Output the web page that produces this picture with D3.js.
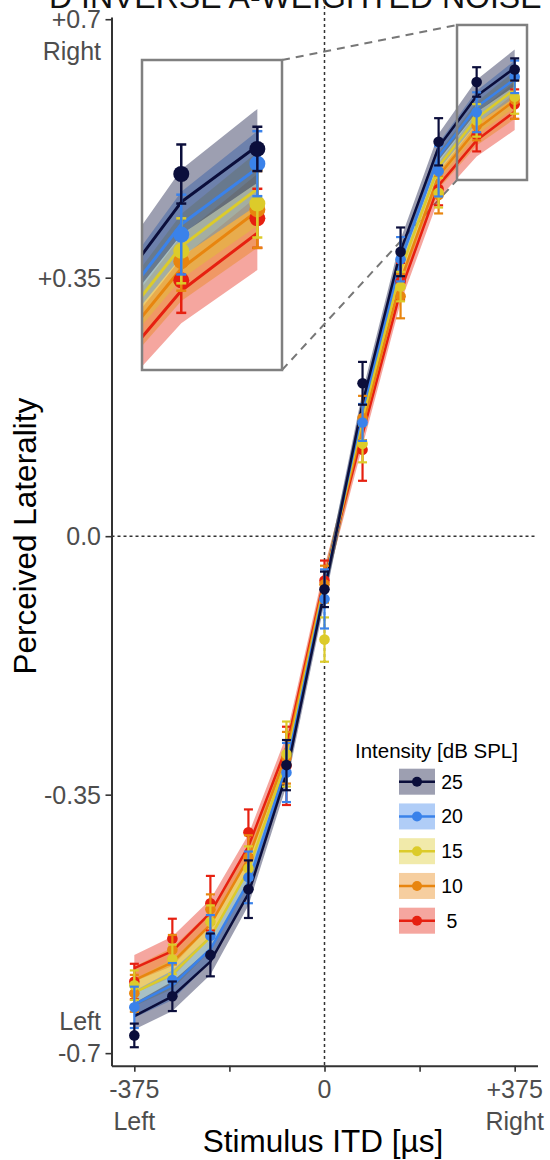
<!DOCTYPE html>
<html><head><meta charset="utf-8">
<script src="https://cdn.jsdelivr.net/npm/d3@7"></script>
<style>body{margin:0;background:#fff} svg{display:block;font-family:"Liberation Sans",Arial,sans-serif}</style>
</head><body><svg id="c" width="550" height="1160"></svg>
<script>
// ---------- data ----------
const itd = [-375,-300,-225,-150,-75,0,75,150,225,300,375];
const intensities = ["25","20","15","10","5"];
const colors = ["#0b0e3b","#3a82ea","#dccb2a","#e8850f","#e62010"];

const obs25 = [-0.676,-0.623,-0.567,-0.478,-0.310,-0.072,0.207,0.385,0.534,0.615,0.632];
const err25 = [0.016,0.020,0.029,0.039,0.034,0.024,0.029,0.033,0.032,0.020,0.015];
const obs20 = [-0.638,-0.601,-0.541,-0.462,-0.320,-0.085,0.154,0.375,0.494,0.574,0.622];
const err20 = [0.028,0.023,0.028,0.035,0.040,0.040,0.025,0.030,0.034,0.027,0.022];
const obs15 = [-0.608,-0.573,-0.522,-0.450,-0.295,-0.140,0.125,0.338,0.465,0.563,0.595];
const err15 = [0.020,0.020,0.022,0.030,0.044,0.030,0.025,0.020,0.020,0.022,0.023];
const obs10 = [-0.619,-0.560,-0.505,-0.435,-0.300,-0.065,0.160,0.325,0.462,0.556,0.591];
const err10 = [0.025,0.020,0.020,0.030,0.035,0.025,0.030,0.030,0.025,0.020,0.026];
const obs5  = [-0.603,-0.545,-0.497,-0.401,-0.311,-0.060,0.117,0.345,0.470,0.543,0.585];
const err5  = [0.024,0.027,0.037,0.031,0.053,0.027,0.042,0.025,0.022,0.022,0.020];

const fit25 = [-0.650,-0.623,-0.576,-0.484,-0.322,-0.074,0.180,0.386,0.527,0.596,0.634];
const fit20 = [-0.634,-0.608,-0.559,-0.468,-0.313,-0.069,0.170,0.373,0.514,0.581,0.619];
const fit15 = [-0.618,-0.593,-0.543,-0.452,-0.304,-0.065,0.160,0.360,0.501,0.566,0.605];
const fit10 = [-0.601,-0.577,-0.526,-0.436,-0.295,-0.061,0.149,0.346,0.488,0.551,0.590];
const fit5  = [-0.585,-0.562,-0.510,-0.420,-0.286,-0.057,0.138,0.332,0.475,0.536,0.575];
const bandHalf = [0.018,0.020,0.018,0.016,0.016,0.016,0.016,0.016,0.018,0.022,0.025];

const yTicks = [-0.7,-0.35,0,0.35,0.7];
const yTickLabels = ["-0.7","-0.35","0.0","+0.35","+0.7"];
const yTickSub = ["Left","","","","Right"];
const xTicks = [-375,-187.5,0,187.5,375];
const xTickLabels = ["-375","","0","","+375"];
const xTickSub = ["Left","","","","Right"];

const titleText = "D INVERSE A-WEIGHTED NOISE";
const xTitle = "Stimulus ITD [µs]";
const yTitle = "Perceived Laterality";
const legendTitle = "Intensity [dB SPL]";

// ---------- build ----------
const obsAll = [obs25,obs20,obs15,obs10,obs5];
const errAll = [err25,err20,err15,err10,err5];
const fitAll = [fit25,fit20,fit15,fit10,fit5];
const series = intensities.map((k,i)=>({
  key:k, color:colors[i],
  pts: itd.map((t,j)=>({t, v:obsAll[i][j], e:errAll[i][j], f:fitAll[i][j], b:bandHalf[j]}))
}));
const drawOrder = series.slice().reverse(); // 5 first, 25 on top

const svg = d3.select("#c");
const FONT = '"Liberation Sans",Arial,sans-serif';

const x = d3.scaleLinear().domain([-420,420]).range([111.5,537.5]);
const y = d3.scaleLinear().domain([-0.717,0.703]).range([1065.7,17]);

// title (cut off at top, as in the source figure)
svg.append("text").attr("x",49).attr("y",8).attr("font-size",32).attr("fill","#111")
  .attr("font-family",FONT).text(titleText);

// reference lines
svg.append("line").attr("x1",x(0)).attr("x2",x(0)).attr("y1",0).attr("y2",y.range()[0])
  .attr("stroke","#333").attr("stroke-width",1.5).attr("stroke-dasharray","3,3");
svg.append("line").attr("x1",x.range()[0]).attr("x2",x.range()[1]).attr("y1",y(0)).attr("y2",y(0))
  .attr("stroke","#333").attr("stroke-width",1.5).attr("stroke-dasharray","3,3");

// inset geometry
const zx = [261.3,399.3], zy = [0.4823,0.6922];
const ix = d3.scaleLinear().domain(zx).range([142,282]);
const iy = d3.scaleLinear().domain(zy).range([370,60]);

// connectors
svg.append("line").attr("x1",ix.range()[1]).attr("y1",iy.range()[1]).attr("x2",x(zx[0])).attr("y2",y(zy[1]))
  .attr("stroke","#777").attr("stroke-width",2).attr("stroke-dasharray","8,6");
svg.append("line").attr("x1",ix.range()[1]).attr("y1",iy.range()[0]).attr("x2",x(zx[0])).attr("y2",y(zy[0]))
  .attr("stroke","#777").attr("stroke-width",2).attr("stroke-dasharray","8,6");

function drawData(g, xs, ys, o){
  const area = d3.area().x(d=>xs(d.t)).y0(d=>ys(d.f-d.b)).y1(d=>ys(d.f+d.b));
  const line = d3.line().x(d=>xs(d.t)).y(d=>ys(d.f));
  drawOrder.forEach(s=>{
    g.append("path").attr("d",area(s.pts)).attr("fill",s.color).attr("fill-opacity",0.4);
  });
  drawOrder.forEach(s=>{
    g.append("path").attr("d",line(s.pts)).attr("fill","none").attr("stroke",s.color)
      .attr("stroke-width",o.lw).attr("stroke-linejoin","round");
  });
  drawOrder.forEach(s=>{
    const gg = g.append("g");
    s.pts.forEach(d=>{
      const cx = xs(d.t);
      gg.append("line").attr("x1",cx).attr("x2",cx).attr("y1",ys(d.v-d.e)).attr("y2",ys(d.v+d.e))
        .attr("stroke",s.color).attr("stroke-width",o.ew);
      [d.v-d.e,d.v+d.e].forEach(vv=>{
        gg.append("line").attr("x1",cx-o.cap).attr("x2",cx+o.cap).attr("y1",ys(vv)).attr("y2",ys(vv))
          .attr("stroke",s.color).attr("stroke-width",o.ew);
      });
      gg.append("circle").attr("cx",cx).attr("cy",ys(d.v)).attr("r",o.r).attr("fill",s.color);
    });
  });
}

drawData(svg.append("g"), x, y, {lw:2.5, ew:2.2, cap:4.5, r:5.3});

// zoom rect in main
svg.append("rect").attr("x",x(zx[0])).attr("y",y(zy[1])).attr("width",x(zx[1])-x(zx[0])).attr("height",y(zy[0])-y(zy[1]))
  .attr("fill","none").attr("stroke","#808080").attr("stroke-width",2.5);

// inset
const defs = svg.append("defs");
defs.append("clipPath").attr("id","ic").append("rect")
  .attr("x",142).attr("y",60).attr("width",140).attr("height",310);
svg.append("rect").attr("x",142).attr("y",60).attr("width",140).attr("height",310).attr("fill","#fff");
drawData(svg.append("g").attr("clip-path","url(#ic)"), ix, iy, {lw:3, ew:2.5, cap:5, r:8});
svg.append("rect").attr("x",142).attr("y",60).attr("width",140).attr("height",310)
  .attr("fill","none").attr("stroke","#808080").attr("stroke-width",2.5);

// axes
const yAxis = d3.axisLeft(y).tickValues(yTicks).tickSize(6).tickSizeOuter(0).tickFormat("");
const gy = svg.append("g").attr("transform",`translate(${x.range()[0]},0)`).call(yAxis);
const xAxis = d3.axisBottom(x).tickValues(xTicks).tickSize(6).tickSizeOuter(0).tickFormat("");
const gx = svg.append("g").attr("transform",`translate(0,${y.range()[0]})`).call(xAxis);
[gy,gx].forEach(g=>{
  g.select(".domain").attr("stroke","#333").attr("stroke-width",2);
  g.selectAll(".tick line").attr("stroke","#333").attr("stroke-width",1.6);
});

const tickCol = "#4d4d4d";
yTicks.forEach((v,i)=>{
  svg.append("text").attr("x",101).attr("y",y(v)+9).attr("text-anchor","end")
    .attr("font-size",25).attr("fill",tickCol).attr("font-family",FONT).text(yTickLabels[i]);
  if(yTickSub[i]){
    svg.append("text").attr("x",101).attr("y",y(v)+9+(v<0?-32:32)).attr("text-anchor","end")
      .attr("font-size",25).attr("fill",tickCol).attr("font-family",FONT).text(yTickSub[i]);
  }
});
xTicks.forEach((t,i)=>{
  if(xTickLabels[i]) svg.append("text").attr("x",x(t)).attr("y",1098).attr("text-anchor","middle")
    .attr("font-size",25).attr("fill",tickCol).attr("font-family",FONT).text(xTickLabels[i]);
  if(xTickSub[i]) svg.append("text").attr("x",x(t)).attr("y",1130).attr("text-anchor","middle")
    .attr("font-size",25).attr("fill",tickCol).attr("font-family",FONT).text(xTickSub[i]);
});

svg.append("text").attr("x",323).attr("y",1152).attr("text-anchor","middle")
  .attr("font-size",31.5).attr("fill","#000").attr("font-family",FONT).text(xTitle);
svg.append("text").attr("transform",`translate(36,${y(0)}) rotate(-90)`).attr("text-anchor","middle")
  .attr("font-size",31.5).attr("fill","#000").attr("font-family",FONT).text(yTitle);

// legend
const lg = svg.append("g");
lg.append("text").attr("x",355).attr("y",758).attr("font-size",20.5).attr("fill","#000")
  .attr("font-family",FONT).text(legendTitle);
series.forEach((s,i)=>{
  const cy = 781.7 + i*34.75;
  lg.append("rect").attr("x",399).attr("y",cy-13).attr("width",36).attr("height",26)
    .attr("fill",s.color).attr("fill-opacity",0.4);
  lg.append("line").attr("x1",399).attr("x2",435).attr("y1",cy).attr("y2",cy)
    .attr("stroke",s.color).attr("stroke-width",2.4);
  lg.append("circle").attr("cx",417).attr("cy",cy).attr("r",5).attr("fill",s.color);
  lg.append("text").attr("x",452).attr("y",cy+7).attr("text-anchor","middle").attr("font-size",19.5)
    .attr("fill","#000").attr("font-family",FONT).text(s.key);
});
</script></body></html>
